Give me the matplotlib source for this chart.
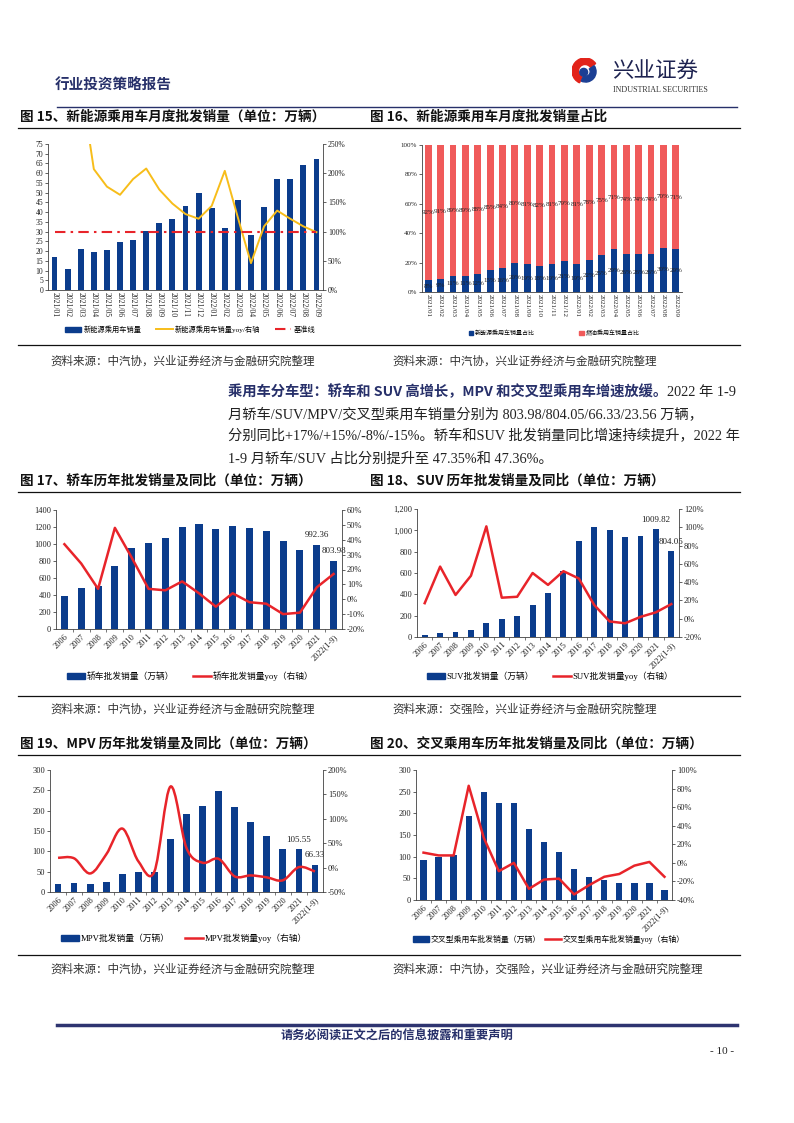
import numpy as np
import matplotlib.pyplot as plt
from matplotlib.patches import Wedge, Circle, PathPatch, Patch
from matplotlib.path import Path
from matplotlib.lines import Line2D
from matplotlib.ticker import MultipleLocator, FuncFormatter

plt.rcParams['font.family'] = ['Liberation Serif', 'Noto Sans CJK SC']
plt.rcParams['axes.unicode_minus'] = False

# ---- data ----
months = ['2021/01', '2021/02', '2021/03', '2021/04', '2021/05', '2021/06', '2021/07',
          '2021/08', '2021/09', '2021/10', '2021/11', '2021/12', '2022/01', '2022/02',
          '2022/03', '2022/04', '2022/05', '2022/06', '2022/07', '2022/08', '2022/09']
nev_sales = [17, 11, 21, 19.5, 20.5, 24.5, 25.5, 30.5, 34.5, 36.5, 43, 50,
             42, 32, 46, 28, 42.5, 57, 57, 64, 67.5]
nev_yoy = [281, 578, 355, 207, 177, 163, 190, 208, 172, 148, 130, 122,
           144, 204, 124, 46, 109, 136, 122, 109, 99]
baseline = 100

nev_share = [8, 9, 11, 11, 12, 15, 16, 20, 19, 18, 19, 21, 19, 22, 25, 29, 26, 26, 26, 30, 29]
fuel_share = [92, 91, 89, 89, 88, 85, 84, 80, 81, 82, 81, 79, 81, 78, 75, 71, 74, 74, 74, 70, 71]

years = ['2006', '2007', '2008', '2009', '2010', '2011', '2012', '2013', '2014',
         '2015', '2016', '2017', '2018', '2019', '2020', '2021', '2022(1-9)']
sedan_sales = [385, 480, 505, 747, 950, 1012, 1075, 1200, 1238, 1172, 1215, 1185, 1153,
               1030, 927, 992.36, 803.98]
sedan_yoy = [37, 24, 7, 48, 28, 7, 6, 12, 4, -5, 4, -2, -3, -10, -9, 8, 17]

suv_sales = [20, 33, 45, 66, 135, 165, 200, 300, 410, 620, 900, 1028, 1000, 937, 946,
             1009.82, 804.05]
suv_yoy = [17, 57, 26, 47, 101, 23, 24, 50, 37, 52, 44, 15, -3, -5, 2, 7, 16]

mpv_sales = [19, 22, 19, 24, 45, 49, 50, 131, 191, 211, 249, 208, 173, 138, 105,
             105.55, 66.33]
mpv_yoy = [20, 19, -12, 27, 80, 13, -8, 166, 40, 10, 18, -18, -16, -20, -26, 1, -8]

cross_sales = [92, 100, 105, 195, 249, 225, 225, 163, 134, 110, 72, 54, 47, 40, 39, 39, 23.56]
cross_yoy = [11, 8, 8, 83, 27, -9, 0, -28, -18, -17, -34, -24, -15, -12, -3, 1, -15]

W, H = 794, 1123
BLUE = '#0b3c8c'
RED = '#e8242a'
PINK = '#f05a5a'
YELLOW = '#f7bd1a'
NAVY = '#27306a'
CJK = ['Noto Sans CJK SC']

fig = plt.figure(figsize=(W / 100, H / 100), dpi=100)
bg = fig.add_axes([0, 0, 1, 1])
bg.set_xlim(0, W)
bg.set_ylim(H, 0)
bg.axis('off')


def px_box(x0, y0, x1, y1):
    return [x0 / W, 1 - y1 / H, (x1 - x0) / W, (y1 - y0) / H]


def pct(v, _):
    return f'{v:.0f}%'


def style(ax, fs):
    ax.tick_params(labelsize=fs, length=2, width=0.5, pad=1.5, colors='#222222')
    for s in ax.spines.values():
        s.set_linewidth(0.6)
        s.set_color('#404040')
    ax.spines['top'].set_visible(False)


def smooth_path(xs, ys):
    # catmull-rom through the points, as bezier segments
    pts = np.column_stack([xs, ys]).astype(float)
    ext = np.vstack([pts[0], pts, pts[-1]])
    verts, codes = [pts[0]], [Path.MOVETO]
    for i in range(len(pts) - 1):
        p0, p1, p2, p3 = ext[i], ext[i + 1], ext[i + 2], ext[i + 3]
        verts += [p1 + (p2 - p0) / 6, p2 - (p3 - p1) / 6, p2]
        codes += [Path.CURVE4] * 3
    return Path(verts, codes)


def legend(handles, labels, cx, cy, fs, ncol, **kw):
    fig.legend(handles, labels, loc='center', bbox_to_anchor=(cx / W, 1 - cy / H),
               ncol=ncol, frameon=False, prop={'size': fs}, **kw)


# ---- page header ----
bg.text(55, 85, '行业投资策略报告', fontsize=10.5, weight='bold', color=NAVY,
        va='center', family=CJK)
logo = fig.add_axes(px_box(572, 58, 598, 84))
logo.set_xlim(-1, 1)
logo.set_ylim(-1, 1)
logo.set_aspect('equal')
logo.axis('off')
logo.add_patch(Wedge((0, 0), 1, 35, 245, width=0.5, color='#e2231a'))
logo.add_patch(Wedge((0.05, -0.05), 0.8, 245, 395, width=0.45, color='#1c3f94'))
logo.add_patch(Circle((-0.1, -0.1), 0.3, color='#1c3f94'))
bg.text(612, 71, '兴业证券', fontsize=15.5, color='#1d2250', va='center', family=CJK,
        weight='medium')
bg.text(613, 90, 'INDUSTRIAL SECURITIES', fontsize=5.8, color='#333333', va='center')
bg.plot([57, 737], [106.5, 106.5], color=NAVY, lw=1.0)

# ---- rules, titles, sources ----
for y in [128, 345, 492, 696, 755, 955]:
    bg.plot([18, 740], [y, y], color='#111111', lw=0.9)

titles = [(20, 117, '图 15、新能源乘用车月度批发销量（单位：万辆）'),
          (370, 117, '图 16、新能源乘用车月度批发销量占比'),
          (20, 481, '图 17、轿车历年批发销量及同比（单位：万辆）'),
          (370, 481, '图 18、SUV 历年批发销量及同比（单位：万辆）'),
          (20, 744, '图 19、MPV 历年批发销量及同比（单位：万辆）'),
          (370, 744, '图 20、交叉乘用车历年批发销量及同比（单位：万辆）')]
for tx, ty, t in titles:
    bg.text(tx, ty, t, fontsize=9.8, weight='bold', va='center', family=CJK, color='#111111')

src_a = '资料来源：中汽协，兴业证券经济与金融研究院整理'
src_b = '资料来源：交强险，兴业证券经济与金融研究院整理'
src_c = '资料来源：中汽协，交强险，兴业证券经济与金融研究院整理'
for sx, sy, s in [(50, 362, src_a), (392, 362, src_a), (50, 710, src_a),
                  (392, 710, src_b), (50, 970, src_a), (392, 970, src_c)]:
    bg.text(sx, sy, s, fontsize=8.3, va='center', color='#333333')

# ---- paragraph ----
pfs = 10.3
t1 = bg.text(228, 392, '乘用车分车型：轿车和 SUV 高增长，MPV 和交叉型乘用车增速放缓。',
             fontsize=pfs, weight='bold', color=NAVY, va='center', family=CJK)
bg.annotate('2022 年 1-9', xy=(1, 0), xycoords=t1, va='bottom', ha='left', fontsize=pfs,
            color='#222222')
para = ['月轿车/SUV/MPV/交叉型乘用车销量分别为 803.98/804.05/66.33/23.56 万辆，',
        '分别同比+17%/+15%/-8%/-15%。轿车和SUV 批发销量同比增速持续提升，2022 年',
        '1-9 月轿车/SUV 占比分别提升至 47.35%和 47.36%。']
for k, line in enumerate(para):
    bg.text(228, 414 + 22.5 * k, line, fontsize=pfs, va='center', color='#222222')

# ---- chart 15 ----
ax = fig.add_axes(px_box(48, 144, 323, 290))
x = np.arange(len(months))
ax.bar(x, nev_sales, width=0.45, color=BLUE)
ax.set_xlim(-0.5, len(x) - 0.5)
ax.set_ylim(0, 75)
ax.yaxis.set_major_locator(MultipleLocator(5))
ax.set_xticks(x, months, rotation=-90, va='top')
style(ax, 5.5)
ax.spines['right'].set_visible(False)
ax.tick_params(axis='x', length=0)
ax2 = ax.twinx()
ax2.set_ylim(0, 250)
ax2.plot(x, nev_yoy, color=YELLOW, lw=1.4)
ax2.plot(x, [baseline] * len(x), color=RED, lw=1.5, linestyle=(0, (5, 2.5, 1.2, 2.5)))
ax2.yaxis.set_major_locator(MultipleLocator(50))
ax2.yaxis.set_major_formatter(FuncFormatter(pct))
style(ax2, 5.5)
for s in ['left', 'bottom']:
    ax2.spines[s].set_visible(False)
legend([Patch(color=BLUE), Line2D([], [], color=YELLOW, lw=1.4),
        Line2D([], [], color=RED, lw=1.5, linestyle=(0, (5, 2.5, 1.2, 2.5)))],
       ['新能源乘用车销量', '新能源乘用车销量yoy/右轴', '基准线'], 190, 329, 5.2, 3,
       handlelength=2.3, handleheight=0.7, handletextpad=0.3, columnspacing=2.0)

# ---- chart 16 ----
ax = fig.add_axes(px_box(422, 145, 682, 292))
ax.bar(x, nev_share, width=0.55, color=BLUE)
ax.bar(x, fuel_share, width=0.55, bottom=nev_share, color=PINK)
for i in x:
    ax.text(i, nev_share[i] / 2, f'{nev_share[i]}%', ha='center', va='center',
            fontsize=5, color='#222222')
    ax.text(i, nev_share[i] + fuel_share[i] / 2, f'{fuel_share[i]}%', ha='center',
            va='center', fontsize=5, color='#222222')
ax.set_xlim(-0.5, len(x) - 0.5)
ax.set_ylim(0, 100)
ax.yaxis.set_major_locator(MultipleLocator(20))
ax.yaxis.set_major_formatter(FuncFormatter(pct))
ax.set_xticks(x, months, rotation=-90, va='top')
style(ax, 5)
ax.spines['right'].set_visible(False)
ax.tick_params(axis='x', length=0)
legend([Patch(color=BLUE), Patch(color=PINK)], ['新能源乘用车销量占比', '燃油乘用车销量占比'],
       554, 333, 4.3, 2, handlelength=0.7, handleheight=0.7, handletextpad=0.3,
       columnspacing=7.5)


# ---- yearly charts ----
def yearly(box, sales, yoy, ymax, ystep, rlim, rstep, bw, fs, notes, fmt=None, smooth=False):
    ax = fig.add_axes(px_box(*box))
    xs = np.arange(len(years))
    ax.bar(xs, sales, width=bw, color=BLUE)
    ax.set_xlim(-0.5, len(xs) - 0.5)
    ax.set_ylim(0, ymax)
    ax.yaxis.set_major_locator(MultipleLocator(ystep))
    if fmt:
        ax.yaxis.set_major_formatter(FuncFormatter(fmt))
    ax.set_xticks(xs, years, rotation=45, ha='right', rotation_mode='anchor')
    ax.set_xticks(xs[:-1] + 0.5, minor=True)
    style(ax, fs)
    ax.spines['right'].set_visible(False)
    ax.tick_params(axis='x', which='major', length=0, pad=2.5)
    ax.tick_params(axis='x', which='minor', length=2, width=0.5, color='#404040')
    for i in notes:
        ax.annotate(f'{sales[i]:.2f}', (xs[i], sales[i]), xytext=(0, 4),
                    textcoords='offset points', ha='center', va='bottom', fontsize=fs + 0.5,
                    color='#222222')
    ax2 = ax.twinx()
    ax2.set_ylim(*rlim)
    if smooth:
        ax2.add_patch(PathPatch(smooth_path(xs, yoy), fill=False, edgecolor=RED, lw=1.8))
    else:
        ax2.plot(xs, yoy, color=RED, lw=1.8)
    ax2.yaxis.set_major_locator(MultipleLocator(rstep))
    ax2.yaxis.set_major_formatter(FuncFormatter(pct))
    style(ax2, fs)
    for s in ['left', 'bottom']:
        ax2.spines[s].set_visible(False)
    return ax, ax2


yearly((56, 510, 342, 629), sedan_sales, sedan_yoy, 1400, 200, (-20, 60), 10, 0.42, 6,
       [15, 16])
legend([Patch(color=BLUE), Line2D([], [], color=RED, lw=1.8)],
       ['轿车批发销量（万辆）', '轿车批发销量yoy（右轴）'], 190, 676, 6.3, 2,
       handlelength=2.0, handleheight=0.7, handletextpad=0.2, columnspacing=2.2)

yearly((417, 509, 679, 637), suv_sales, suv_yoy, 1200, 200, (-20, 120), 20, 0.38, 6,
       [15, 16], fmt=lambda v, _: f'{v:,.0f}')
legend([Patch(color=BLUE), Line2D([], [], color=RED, lw=1.8)],
       ['SUV批发销量（万辆）', 'SUV批发销量yoy（右轴）'], 550, 676, 6.3, 2,
       handlelength=2.0, handleheight=0.7, handletextpad=0.2, columnspacing=2.2)

yearly((50, 770, 323, 892), mpv_sales, mpv_yoy, 300, 50, (-50, 200), 50, 0.42, 6,
       [15, 16], smooth=True)
legend([Patch(color=BLUE), Line2D([], [], color=RED, lw=1.8)],
       ['MPV批发销量（万辆）', 'MPV批发销量yoy（右轴）'], 184, 938, 6.3, 2,
       handlelength=2.0, handleheight=0.7, handletextpad=0.2, columnspacing=1.8)

yearly((416, 770, 672, 900), cross_sales, cross_yoy, 300, 50, (-40, 100), 20, 0.42, 6, [])
legend([Patch(color=BLUE), Line2D([], [], color=RED, lw=1.8)],
       ['交叉型乘用车批发销量（万辆）', '交叉型乘用车批发销量yoy（右轴）'], 549, 939, 5.7, 2,
       handlelength=2.0, handleheight=0.7, handletextpad=0.2, columnspacing=0.6)

# ---- footer ----
bg.plot([57, 737], [1025, 1025], color='#2e3470', lw=2.5)
bg.text(397, 1036, '请务必阅读正文之后的信息披露和重要声明', fontsize=8.8, weight='bold',
        color=NAVY, ha='center', va='center', family=CJK)
bg.text(734, 1052, '- 10 -', fontsize=8, ha='right', va='center', color='#222222')

fig.savefig('out.png', dpi=100)
